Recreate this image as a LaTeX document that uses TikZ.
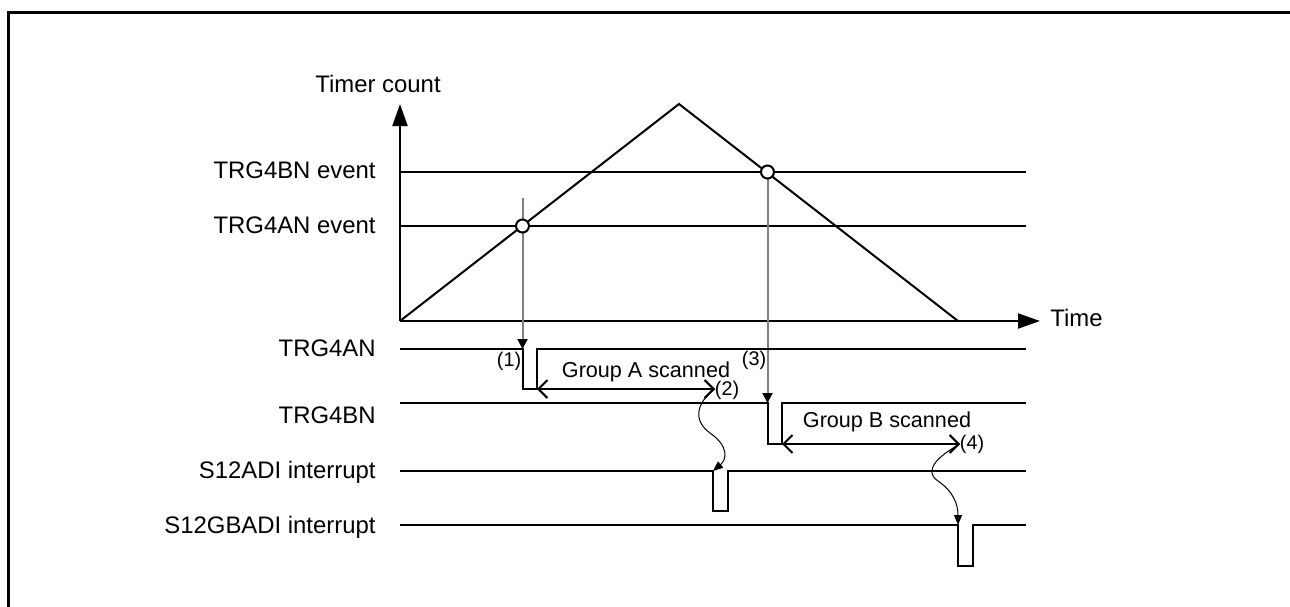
\documentclass[tikz,border=0pt]{standalone}
\usepackage{fontspec}
\setmainfont{Liberation Sans}
\usetikzlibrary{arrows.meta}
\begin{document}
\begin{tikzpicture}[x=0.5pt,y=-0.5pt,
  sig/.style={line width=1pt, line join=miter},
  axis/.style={line width=1pt, -{Triangle[length=11pt,width=7.5pt]}},
  trig/.style={line width=1pt, draw={rgb,255:red,128;green,128;blue,128}, -{Triangle[length=5pt,width=5pt,color=black]}},
  dim/.style={line width=1pt, {Straight Barb[length=4.5pt,width=9pt]}-{Straight Barb[length=4.5pt,width=9pt]}},
  wavy/.style={line width=0.5pt, -{Triangle[length=5pt,width=4pt]}},
  lbl/.style={font=\fontsize{11.95}{14}\selectfont, inner sep=0pt, anchor=base east},
  grp/.style={font=\fontsize{10.8}{13}\selectfont, inner sep=0pt, anchor=base},
  num/.style={font=\fontsize{9.9}{12}\selectfont, inner sep=0pt},
  hit/.style={circle, draw, fill=white, line width=1pt, minimum size=6.5pt, inner sep=0pt}]
\useasboundingbox (0,0) rectangle (1290,606);
% frame
\draw[line width=1.35pt] (8.7,610) -- (8.7,12.8) -- (1295,12.8);

% axes
\coordinate (O) at (400,321);
\coordinate (Ytip) at (400,104);
\coordinate (Xtip) at (1040,321);
\coordinate (peak) at (679,104);
\coordinate (tend) at (958,321);
\draw[axis] (O) -- (Ytip);
\draw[axis] (O) -- (Xtip);
\node[font=\fontsize{11.95}{14}\selectfont, inner sep=0pt, anchor=base west] (tc) at (315,92) {Timer count};
\node[font=\fontsize{11.95}{14}\selectfont, inner sep=0pt, anchor=base west] (time) at (1050,326) {Time};

% event levels
\coordinate (b0) at (400,172); \coordinate (b1) at (1026,172);
\coordinate (a0) at (400,226); \coordinate (a1) at (1026,226);
\draw[line width=1pt] (b0) -- (b1);
\draw[line width=1pt] (a0) -- (a1);
\node[lbl] (lbe) at (376,178) {TRG4BN event};
\node[lbl] (lae) at (376,233) {TRG4AN event};

% triangle counter
\draw[line width=1pt, line join=miter] (O) -- (peak) -- (tend);

% trigger lines
\coordinate (t1s) at (522.5,198);
\coordinate (t1e) at (522.5,349);
\coordinate (t2s) at (767.5,172);
\coordinate (t2e) at (767.5,403);
\draw[trig] (t1s) -- (t1e);
\draw[trig] (t2s) -- (t2e);
\node[hit] (c1) at (522.5,226) {};
\node[hit] (c2) at (767.5,172) {};

% signals
\draw[sig] (400,349) -- (t1e) -- (522.5,389) -- (537,389) -- (537,349) -- (1026,349);
\draw[sig] (400,403) -- (t2e) -- (767.5,444) -- (782,444) -- (782,403) -- (1026,403);
\draw[sig] (400,471) -- (713,471) -- (713,511) -- (728,511) -- (728,471) -- (1026,471);
\draw[sig] (400,525) -- (958,525) -- (958,566) -- (973,566) -- (973,525) -- (1026,525);
\node[lbl] (l1) at (376,356) {TRG4AN};
\node[lbl] (l2) at (376,423) {TRG4BN};
\node[lbl] (l3) at (376,478) {S12ADI interrupt};
\node[lbl] (l4) at (376,533) {S12GBADI interrupt};

% scan durations
\coordinate (dA0) at (537,389); \coordinate (dA1) at (715,389);
\coordinate (dB0) at (782,444); \coordinate (dB1) at (960,444);
\draw[dim] (dA0) -- (dA1);
\draw[dim] (dB0) -- (dB1);
\node[grp] (ga) at (646,377) {Group A scanned};
\node[grp] (gb) at (887,427) {Group B scanned};

% numbers
\node[num] (n1) at (509,361) {(1)};
\node[num] (n2) at (727,390) {(2)};
\node[num] (n3) at (754,360) {(3)};
\node[num] (n4) at (972,444) {(4)};

% interrupt links
\coordinate (iA) at (713,471);
\coordinate (iB) at (958,525);
\draw[wavy] (dA1) .. controls (697,402) and (692,420) .. (710,433) .. controls (730,447) and (726,460) .. (iA);
\draw[wavy] (dB1) .. controls (940,455) and (922,470) .. (938,481) .. controls (954,492) and (958,505) .. (iB);
\end{tikzpicture}
\end{document}
